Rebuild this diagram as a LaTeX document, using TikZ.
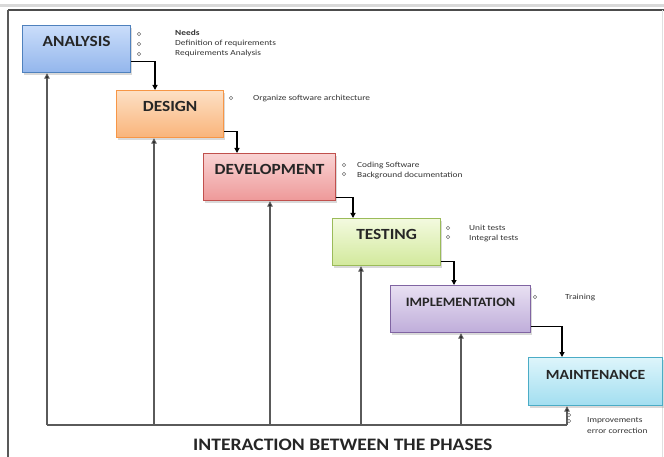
\documentclass[tikz,border=0pt]{standalone}
\usepackage{fontspec}
\setmainfont{Carlito}
\newfontfamily\smallfont[FakeStretch=1.2]{Carlito}
\newfontfamily\boxfont[FakeStretch=1.12]{Carlito}
\usetikzlibrary{arrows.meta,shadows,calc}
\definecolor{aTop}{HTML}{CADDFA}\definecolor{aBot}{HTML}{93B6EC}\definecolor{aBd}{HTML}{4F81BD}
\definecolor{dTop}{HTML}{FDE0C5}\definecolor{dBot}{HTML}{F9B47A}\definecolor{dBd}{HTML}{F79646}
\definecolor{vTop}{HTML}{F9D3D3}\definecolor{vBot}{HTML}{EE9999}\definecolor{vBd}{HTML}{C0504D}
\definecolor{tTop}{HTML}{F3FADF}\definecolor{tBot}{HTML}{D2E99C}\definecolor{tBd}{HTML}{9BBB59}
\definecolor{iTop}{HTML}{E8E0F2}\definecolor{iBot}{HTML}{BFADDA}\definecolor{iBd}{HTML}{8064A2}
\definecolor{mTop}{HTML}{DDF5FB}\definecolor{mBot}{HTML}{A2DEF0}\definecolor{mBd}{HTML}{4BACC6}
\definecolor{fbgray}{HTML}{5A5A5A}
\tikzset{
  phase/.style n args={3}{draw=#3, line width=1.2pt, top color=#1, bottom color=#2,
    minimum height=47pt, anchor=north west, inner sep=0pt,
    text height=10pt, text depth=15pt, font=\boxfont\bfseries\fontsize{15.5}{16}\selectfont,
    text=black!85,
    drop shadow={opacity=0.3, shadow xshift=1pt, shadow yshift=-2pt}},
  flow/.style={draw=black, line width=1.1pt, -{Triangle[length=5pt,width=5pt]}},
  fb/.style={draw=fbgray, line width=1.1pt},
  fbarr/.style={fb, -{Triangle[length=5.5pt,width=5.5pt,fill=black]}},
  note/.style={anchor=west, inner sep=0pt, font=\smallfont\fontsize{7.8}{8}\selectfont, text=black!80},
  bul/.style={circle, draw=black!55, line width=0.6pt, minimum size=3.6pt, inner sep=0pt},
}
\begin{document}
\begin{tikzpicture}[x=1pt,y=-1pt]
\useasboundingbox (0,0) rectangle (664,457);
% frame
\draw[black!15, line width=2.5pt] (0,5.5) -- (664,5.5);
\draw[black!70, line width=1.3pt] (8,10) -- (664,10);
\draw[black!65, line width=1.2pt] (8,10) -- (8,457);
\draw[black!12, line width=0.8pt] (662,10) -- (662,457);
% boxes
\node[phase={aTop}{aBot}{aBd}, minimum width=108pt] (A) at (22,25) {ANALYSIS};
\node[phase={dTop}{dBot}{dBd}, minimum width=107pt] (D) at (116,90) {DESIGN};
\node[phase={vTop}{vBot}{vBd}, minimum width=132pt] (V) at (203,153) {DEVELOPMENT};
\node[phase={tTop}{tBot}{tBd}, minimum width=108pt] (T) at (332,218) {TESTING};
\node[phase={iTop}{iBot}{iBd}, minimum width=140pt, font=\boxfont\bfseries\fontsize{12.8}{13}\selectfont] (I) at (390,285) {IMPLEMENTATION};
\node[phase={mTop}{mBot}{mBd}, minimum width=134pt, minimum height=48pt, font=\boxfont\bfseries\fontsize{14}{14}\selectfont] (M) at (528,357) {MAINTENANCE};
% flow arrows
\draw[flow] ([yshift=12pt]A.south east) -| ([xshift=39pt]D.north west);
\draw[flow] ([yshift=7pt]D.south east) -| ([xshift=34pt]V.north west);
\draw[flow] ([yshift=4pt]V.south east) -| ([xshift=21pt]T.north west);
\draw[flow] ([yshift=5pt]T.south east) -| ([xshift=64pt]I.north west);
\draw[flow] ([yshift=7pt]I.south east) -| ([xshift=34pt]M.north west);
% feedback
\coordinate (f1) at (47,425);
\coordinate (f2) at (154,425);
\coordinate (f3) at (270,425);
\coordinate (f4) at (361,425);
\coordinate (f5) at (461,425);
\coordinate (f6) at (567,425);
\draw[fb] (f1) -- (f6);
\draw[fbarr] (f1) -- (f1 |- A.south);
\draw[fbarr] (f2) -- (f2 |- D.south);
\draw[fbarr] (f3) -- (f3 |- V.south);
\draw[fbarr] (f4) -- (f4 |- T.south);
\draw[fbarr] (f5) -- (f5 |- I.south);
\draw[fbarr] (f6) -- (f6 |- M.south);
% notes
\node[bul] (b1) at (139,34) {};
\node[bul] (b2) at (139,44) {};
\node[bul] (b3) at (139,54) {};
\node[note, font=\smallfont\bfseries\fontsize{7.8}{8}\selectfont] (n1) at (175,33) {Needs};
\node[note] (n2) at (175,43) {Definition of requirements};
\node[note] (n3) at (175,53) {Requirements Analysis};
\node[bul] (b4) at (231,98) {};
\node[note] (n4) at (253,98) {Organize software architecture};
\node[bul] (b5) at (344,165) {};
\node[bul] (b6) at (344,174) {};
\node[note] (n5) at (357,165) {Coding Software};
\node[note] (n6) at (357,175) {Background documentation};
\node[bul] (b7) at (448,228) {};
\node[bul] (b8) at (448,237) {};
\node[note] (n7) at (469,228) {Unit tests};
\node[note] (n8) at (469,238) {Integral tests};
\node[bul] (b9) at (535,297) {};
\node[note] (n9) at (565,297) {Training};
\node[bul] (b10) at (569,415) {};
\node[bul] (b11) at (569,421) {};
\node[note] (n10) at (587,421) {Improvements};
\node[note] (n11) at (587,431) {error correction};
% title
\node[font=\boxfont\bfseries\fontsize{17.5}{18}\selectfont, text=black!85, anchor=west, inner sep=0pt] (title) at (193,445) {INTERACTION BETWEEN THE PHASES};
\end{tikzpicture}
\end{document}
